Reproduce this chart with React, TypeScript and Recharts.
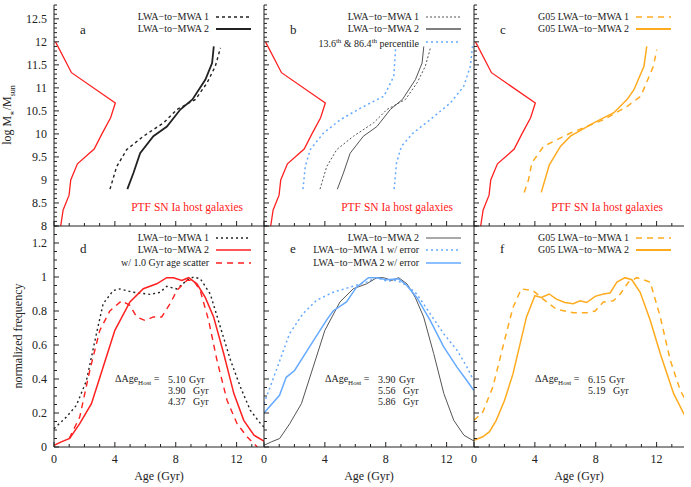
import React from 'react';
import { LineChart, Line, XAxis, YAxis } from 'recharts';

// ---------------- data ----------------
// Top panels: PTF SN Ia host galaxy mass distribution (x in plot units, y = log M*)
const hostMass = [12.0, 11.33, 10.67, 10.35, 10.0, 9.67, 9.35, 9.0, 8.67, 8.35, 8.0];
const hostFreq = [0.1, 1.15, 4.03, 3.72, 3.15, 2.64, 1.54, 1.1, 0.99, 0.6, 0.44];

// LWA-to-MWA 1 relation (age vs mass)
const lwa1Mass = [8.8, 9.29, 9.66, 9.95, 10.24, 10.53, 10.75, 11.11, 11.47, 11.87];
const lwa1Age = [3.68, 4.12, 4.78, 5.88, 7.2, 8.08, 9.3, 10.06, 10.6, 10.94];
// LWA-to-MWA 2 relation
const lwa2Mass = [8.8, 9.15, 9.58, 9.95, 10.16, 10.53, 10.75, 11.18, 11.54, 11.9];
const lwa2Age = [4.82, 5.22, 5.66, 6.53, 7.42, 8.3, 9.1, 9.95, 10.39, 10.5];
// 13.6th and 86.4th percentiles
const p14Mass = [8.8, 9.29, 9.66, 10.02, 10.31, 10.56, 10.82, 11.25, 11.87];
const p14Age = [2.56, 2.71, 3.04, 3.91, 5.02, 6.34, 7.88, 8.53, 8.65];
const p86Mass = [8.8, 9.37, 9.73, 10.02, 10.31, 10.67, 11.03, 11.47, 11.9];
const p86Age = [8.55, 8.71, 9.03, 9.8, 10.92, 12.24, 13.12, 13.56, 13.7];
// G05 relations
const g05aMass = [8.73, 9.0, 9.37, 9.73, 10.02, 10.31, 10.6, 10.82, 11.47, 11.83];
const g05aAge = [3.3, 3.58, 3.8, 4.57, 6.34, 8.53, 10.07, 10.96, 11.79, 12.01];
const g05bMass = [8.73, 9.33, 9.73, 9.95, 10.24, 10.46, 10.75, 10.96, 11.47, 11.9];
const g05bAge = [4.42, 4.95, 5.68, 6.34, 7.87, 9.19, 10.07, 10.51, 11.17, 11.35];

// Bottom panels: host age distributions (normalized frequency)
const d1Age = [0, 0.81, 1.47, 2.13, 2.79, 3.23, 3.89, 4.33, 5.21, 6.31, 6.97, 7.41, 8.07, 8.73, 9.17, 9.61, 10.27, 10.93, 11.6, 12.25, 12.9, 13.58, 13.9];
const d1Freq = [0.108, 0.176, 0.245, 0.39, 0.667, 0.843, 0.92, 0.93, 0.91, 0.898, 0.91, 0.945, 0.93, 0.98, 1.0, 0.99, 0.9, 0.706, 0.51, 0.353, 0.216, 0.137, 0.108];
const d2Age = [0, 0.48, 1.03, 1.69, 2.46, 3.23, 4.0, 4.99, 5.87, 6.75, 7.41, 7.85, 8.4, 8.85, 9.39, 9.94, 10.49, 11.15, 11.82, 12.47, 13.14, 13.9];
const d2Freq = [0.01, 0.03, 0.05, 0.137, 0.255, 0.47, 0.686, 0.853, 0.931, 0.96, 0.996, 0.996, 0.98, 0.996, 0.96, 0.88, 0.765, 0.55, 0.314, 0.157, 0.069, 0.03];
const d3Age = [1.0, 1.69, 2.35, 3.01, 3.67, 4.44, 4.99, 5.43, 5.98, 6.53, 7.08, 7.63, 8.07, 8.73, 9.17, 9.61, 10.16, 10.71, 11.37, 12.03, 12.7, 13.36];
const d3Freq = [0.05, 0.176, 0.45, 0.686, 0.8, 0.86, 0.833, 0.765, 0.745, 0.765, 0.765, 0.843, 0.92, 0.98, 0.98, 0.92, 0.745, 0.51, 0.275, 0.137, 0.059, 0.0];
const e1Age = [0, 0.8, 1.68, 2.56, 3.45, 4.54, 5.64, 6.74, 7.41, 8.06, 8.72, 9.39, 10.04, 10.92, 11.8, 12.68, 13.34, 13.78];
const e1Freq = [0.255, 0.45, 0.667, 0.784, 0.863, 0.91, 0.94, 0.97, 0.996, 0.976, 0.98, 0.95, 0.9, 0.784, 0.667, 0.57, 0.47, 0.39];
const e2Age = [0, 1.02, 1.46, 2.01, 3.0, 4.1, 4.54, 5.42, 6.08, 6.86, 7.41, 8.06, 8.83, 9.39, 10.04, 10.92, 11.8, 12.68, 13.34, 13.78];
const e2Freq = [0.2, 0.304, 0.41, 0.45, 0.59, 0.745, 0.8, 0.853, 0.94, 0.996, 0.996, 0.984, 0.99, 0.95, 0.88, 0.745, 0.59, 0.47, 0.39, 0.333];
const f1Age = [0, 0.58, 1.24, 1.9, 2.56, 3.11, 3.88, 4.54, 5.42, 6.52, 7.41, 7.96, 8.5, 9.16, 9.61, 10.15, 10.7, 11.58, 12.24, 12.9, 13.56, 13.9];
const f1Freq = [0.157, 0.206, 0.353, 0.59, 0.82, 0.93, 0.92, 0.87, 0.81, 0.79, 0.79, 0.8, 0.853, 0.86, 0.9, 0.97, 0.996, 0.97, 0.765, 0.51, 0.333, 0.275];
const f2Age = [0, 0.58, 1.02, 1.46, 2.01, 2.56, 3.45, 4.0, 4.43, 4.94, 5.42, 5.97, 6.52, 6.97, 7.41, 7.96, 8.5, 8.94, 9.39, 9.93, 10.37, 10.92, 11.58, 12.24, 13.12, 13.9];
const f2Freq = [0.04, 0.06, 0.09, 0.157, 0.275, 0.43, 0.765, 0.89, 0.88, 0.9, 0.87, 0.85, 0.843, 0.86, 0.85, 0.886, 0.9, 0.906, 0.97, 0.996, 0.984, 0.91, 0.745, 0.55, 0.314, 0.176];

// tick labels
const xTickLabels = [0, 4, 8, 12];
const massTickLabels = [8, 8.5, 9, 9.5, 10, 10.5, 11, 11.5, 12, 12.5];
const freqTickLabels = [0, 0.2, 0.4, 0.6, 0.8, 1, 1.2];
const deltaD = ['5.10', '3.90', '4.37'];
const deltaE = ['3.90', '5.56', '5.86'];
const deltaF = ['6.15', '5.19'];

// ---------------- styling / layout ----------------
const FONT = "'Liberation Serif', 'DejaVu Serif', serif";
const INK = '#222';
const RED = '#ff2020';
const BLUE = '#66aaff';
const ORANGE = '#ffab1f';
const GRAY = '#555';
const W = 210;
const H = 221;
const COLS = [54, 264, 474];
const ROWS = [5, 226];
const XMAX = 13.8;
const ML = 50, MT = 5, MR = 5, MB = 40;

const range = (a: number, b: number, s: number) => {
  const out: number[] = [];
  for (let v = a; v <= b + 1e-9; v += s) out.push(Math.round(v * 1000) / 1000);
  return out;
};
const xTicks = range(0, 13, 1);
const massTicks = range(8, 12.8, 0.1);
const freqTicks = range(0, 1.3, 0.05);

const pts = (xs: number[], ys: number[]) => xs.map((x, i) => ({ x, y: ys[i] }));

type Series = { xs: number[]; ys: number[]; color: string; width: number; dash?: string };

const isMul = (v: number, m: number) => Math.abs(v / m - Math.round(v / m)) < 1e-6;

function Panel(props: {
  col: number; row: number; yDomain: [number, number]; yTicks: number[]; yMajor: number;
  yLabels: number[] | null; xLabels: boolean; series: Series[];
}) {
  const { col, row, yDomain, yTicks, yMajor, yLabels, xLabels, series } = props;
  const left = COLS[col];
  const top = ROWS[row];
  const xTick = (side: 'b' | 't') => (p: any) => {
    const v = p.payload.value;
    const major = isMul(v, 4);
    const len = major ? 5 : 3;
    const dir = side === 'b' ? -1 : 1;
    return (
      <g>
        <line x1={p.x} x2={p.x} y1={p.y} y2={p.y + dir * len} stroke={INK} strokeWidth={1} />
        {side === 'b' && xLabels && xTickLabels.includes(v) ? (
          <text x={p.x} y={p.y + 16} textAnchor="middle" fontSize={12} fontFamily={FONT} fill={INK}>{v}</text>
        ) : null}
      </g>
    );
  };
  const yTick = (side: 'l' | 'r') => (p: any) => {
    const v = p.payload.value;
    const major = isMul(v, yMajor);
    const len = major ? 5 : 3;
    const dir = side === 'l' ? 1 : -1;
    return (
      <g>
        <line x1={p.x} x2={p.x + dir * len} y1={p.y} y2={p.y} stroke={INK} strokeWidth={1} />
        {side === 'l' && yLabels && yLabels.some((l) => Math.abs(l - v) < 1e-6) ? (
          <text x={p.x - 7} y={p.y + 4} textAnchor="end" fontSize={12} fontFamily={FONT} fill={INK}>{v}</text>
        ) : null}
      </g>
    );
  };
  return (
    <div style={{ position: 'absolute', left: left - ML, top: top - MT }}>
      <LineChart width={W + ML + MR} height={H + MT + MB} margin={{ top: MT, right: MR, left: 0, bottom: 0 }}>
        <XAxis xAxisId="b" orientation="bottom" dataKey="x" type="number" domain={[0, XMAX]} ticks={xTicks}
          interval={0} height={MB} tickSize={0} tickMargin={0} tickLine={false}
          axisLine={{ stroke: INK, strokeWidth: 1 }} tick={xTick('b')} allowDataOverflow />
        <XAxis xAxisId="t" orientation="top" dataKey="x" type="number" domain={[0, XMAX]} ticks={xTicks}
          interval={0} height={0} tickSize={0} tickMargin={0} tickLine={false}
          axisLine={{ stroke: INK, strokeWidth: 1 }} tick={xTick('t')} allowDataOverflow />
        <YAxis yAxisId="l" orientation="left" type="number" domain={yDomain} ticks={yTicks} interval={0}
          width={ML} tickSize={0} tickMargin={0} tickLine={false}
          axisLine={{ stroke: INK, strokeWidth: 1 }} tick={yTick('l')} allowDataOverflow />
        <YAxis yAxisId="r" orientation="right" type="number" domain={yDomain} ticks={yTicks} interval={0}
          width={0} tickSize={0} tickMargin={0} tickLine={false}
          axisLine={{ stroke: INK, strokeWidth: 1 }} tick={yTick('r')} allowDataOverflow />
        {series.map((s, i) => (
          <Line key={i} xAxisId="b" yAxisId="l" data={pts(s.xs, s.ys)} dataKey="y" type="linear"
            stroke={s.color} strokeWidth={s.width} strokeDasharray={s.dash} dot={false}
            activeDot={false} isAnimationActive={false} />
        ))}
      </LineChart>
    </div>
  );
}

type LegItem = { label: React.ReactNode; color: string; width: number; dash?: string };

function LegendBox({ col, row, items }: { col: number; row: number; items: LegItem[] }) {
  const right = COLS[col] + W;
  const y0 = ROWS[row] + 11.5;
  return (
    <>
      {items.map((it, i) => {
        const y = y0 + i * 12.7;
        return (
          <React.Fragment key={i}>
            <div style={{ position: 'absolute', right: 691 - (right - 55), top: y - 7, fontSize: 10,
              lineHeight: '13px', whiteSpace: 'nowrap', color: INK, fontFamily: FONT }}>{it.label}</div>
            <svg style={{ position: 'absolute', left: right - 48, top: y - 3 }} width={35} height={6}>
              <line x1={0} x2={35} y1={3} y2={3} stroke={it.color} strokeWidth={it.width} strokeDasharray={it.dash} />
            </svg>
          </React.Fragment>
        );
      })}
    </>
  );
}

function Txt({ x, y, children, size = 12, color = INK, anchor = 'left' }: any) {
  const style: React.CSSProperties = {
    position: 'absolute', top: y, fontSize: size, color, fontFamily: FONT, whiteSpace: 'nowrap', lineHeight: 1,
    transform: 'translateY(-50%)',
  };
  if (anchor === 'right') style.right = 691 - x;
  else if (anchor === 'center') { style.left = x; style.transform = 'translate(-50%,-50%)'; }
  else style.left = x;
  return <div style={style}>{children}</div>;
}

function Delta({ col, vals }: { col: number; vals: string[] }) {
  const l = COLS[col];
  return (
    <>
      <Txt x={l + 61} y={380} size={10}>ΔAge<sub style={{ fontSize: 7 }}>Host</sub> =</Txt>
      {vals.map((v, i) => (
        <React.Fragment key={i}>
          <Txt x={l + 114} y={380 + i * 11} size={10}>{v}</Txt>
          <Txt x={l + (i === 0 ? 135 : 139)} y={380 + i * 11} size={10}>Gyr</Txt>
        </React.Fragment>
      ))}
    </>
  );
}

const hostSeries: Series = { xs: hostFreq, ys: hostMass, color: RED, width: 1.3 };

export default function App() {
  const topProps = { yDomain: [8, 12.8] as [number, number], yTicks: massTicks, yMajor: 0.5, xLabels: false };
  const botProps = { yDomain: [0, 1.3] as [number, number], yTicks: freqTicks, yMajor: 0.2, xLabels: true };
  return (
    <div style={{ position: 'absolute', left: 0, top: 0, width: 691, height: 487, background: '#fff', fontFamily: FONT, overflow: 'hidden' }}>
      <Panel col={0} row={0} {...topProps} yLabels={massTickLabels} xLabels={false} series={[
        hostSeries,
        { xs: lwa1Age, ys: lwa1Mass, color: INK, width: 1.4, dash: '3 3' },
        { xs: lwa2Age, ys: lwa2Mass, color: INK, width: 1.8 },
      ]} />
      <Panel col={1} row={0} {...topProps} yLabels={null} xLabels={false} series={[
        hostSeries,
        { xs: p14Age, ys: p14Mass, color: BLUE, width: 1.5, dash: '2 3' },
        { xs: p86Age, ys: p86Mass, color: BLUE, width: 1.5, dash: '2 3' },
        { xs: lwa1Age, ys: lwa1Mass, color: GRAY, width: 1, dash: '2 2' },
        { xs: lwa2Age, ys: lwa2Mass, color: GRAY, width: 1 },
      ]} />
      <Panel col={2} row={0} {...topProps} yLabels={null} xLabels={false} series={[
        hostSeries,
        { xs: g05aAge, ys: g05aMass, color: ORANGE, width: 1.5, dash: '6 5' },
        { xs: g05bAge, ys: g05bMass, color: ORANGE, width: 1.5 },
      ]} />
      <Panel col={0} row={1} {...botProps} yLabels={freqTickLabels} series={[
        { xs: d1Age, ys: d1Freq, color: INK, width: 1.4, dash: '2 3' },
        { xs: d3Age, ys: d3Freq, color: RED, width: 1.4, dash: '6 5' },
        { xs: d2Age, ys: d2Freq, color: RED, width: 1.5 },
      ]} />
      <Panel col={1} row={1} {...botProps} yLabels={null} series={[
        { xs: e1Age, ys: e1Freq, color: BLUE, width: 1.5, dash: '2 3' },
        { xs: d2Age, ys: d2Freq, color: GRAY, width: 1 },
        { xs: e2Age, ys: e2Freq, color: BLUE, width: 1.5 },
      ]} />
      <Panel col={2} row={1} {...botProps} yLabels={null} series={[
        { xs: f1Age, ys: f1Freq, color: ORANGE, width: 1.5, dash: '6 5' },
        { xs: f2Age, ys: f2Freq, color: ORANGE, width: 1.5 },
      ]} />

      <LegendBox col={0} row={0} items={[
        { label: 'LWA−to−MWA 1', color: INK, width: 1.4, dash: '3 3' },
        { label: 'LWA−to−MWA 2', color: INK, width: 2 },
      ]} />
      <LegendBox col={1} row={0} items={[
        { label: 'LWA−to−MWA 1', color: GRAY, width: 1, dash: '2 2' },
        { label: 'LWA−to−MWA 2', color: GRAY, width: 1.5 },
        { label: <span>13.6<sup style={{ fontSize: 7 }}>th</sup> &amp; 86.4<sup style={{ fontSize: 7 }}>th</sup> percentile</span>, color: BLUE, width: 1.5, dash: '2 3' },
      ]} />
      <LegendBox col={2} row={0} items={[
        { label: 'G05 LWA−to−MWA 1', color: ORANGE, width: 1.5, dash: '6 5' },
        { label: 'G05 LWA−to−MWA 2', color: ORANGE, width: 2 },
      ]} />
      <LegendBox col={0} row={1} items={[
        { label: 'LWA−to−MWA 1', color: INK, width: 1.4, dash: '2 3' },
        { label: 'LWA−to−MWA 2', color: RED, width: 1.5 },
        { label: 'w/ 1.0 Gyr age scatter', color: RED, width: 1.5, dash: '6 5' },
      ]} />
      <LegendBox col={1} row={1} items={[
        { label: 'LWA−to−MWA 2', color: GRAY, width: 1.2 },
        { label: 'LWA−to−MWA 1 w/ error', color: BLUE, width: 1.5, dash: '2 3' },
        { label: 'LWA−to−MWA 2 w/ error', color: BLUE, width: 1.5 },
      ]} />
      <LegendBox col={2} row={1} items={[
        { label: 'G05 LWA−to−MWA 1', color: ORANGE, width: 1.5, dash: '6 5' },
        { label: 'G05 LWA−to−MWA 2', color: ORANGE, width: 2 },
      ]} />

      {['a', 'b', 'c'].map((t, i) => (
        <Txt key={t} x={COLS[i] + 26} y={29} size={13}>{t}</Txt>
      ))}
      {['d', 'e', 'f'].map((t, i) => (
        <Txt key={t} x={COLS[i] + 26} y={248} size={13}>{t}</Txt>
      ))}
      {[0, 1, 2].map((i) => (
        <Txt key={'ptf' + i} x={COLS[i] + W - 21} y={208} size={11.5} color={RED} anchor="right">PTF SN Ia host galaxies</Txt>
      ))}
      {[0, 1, 2].map((i) => (
        <Txt key={'age' + i} x={COLS[i] + W / 2} y={476} size={12} anchor="center">Age (Gyr)</Txt>
      ))}
      <Delta col={0} vals={deltaD} />
      <Delta col={1} vals={deltaE} />
      <Delta col={2} vals={deltaF} />

      <div style={{ position: 'absolute', left: 9, top: 115, transform: 'translate(-50%,-50%) rotate(-90deg)',
        whiteSpace: 'nowrap', fontSize: 12, color: INK, fontFamily: FONT, lineHeight: 1 }}>
        log M<sub style={{ fontSize: 8 }}>∗</sub>/M<sub style={{ fontSize: 8 }}>sun</sub>
      </div>
      <div style={{ position: 'absolute', left: 18, top: 336, transform: 'translate(-50%,-50%) rotate(-90deg)',
        whiteSpace: 'nowrap', fontSize: 12, color: INK, fontFamily: FONT, lineHeight: 1 }}>
        normalized frequency
      </div>
    </div>
  );
}
